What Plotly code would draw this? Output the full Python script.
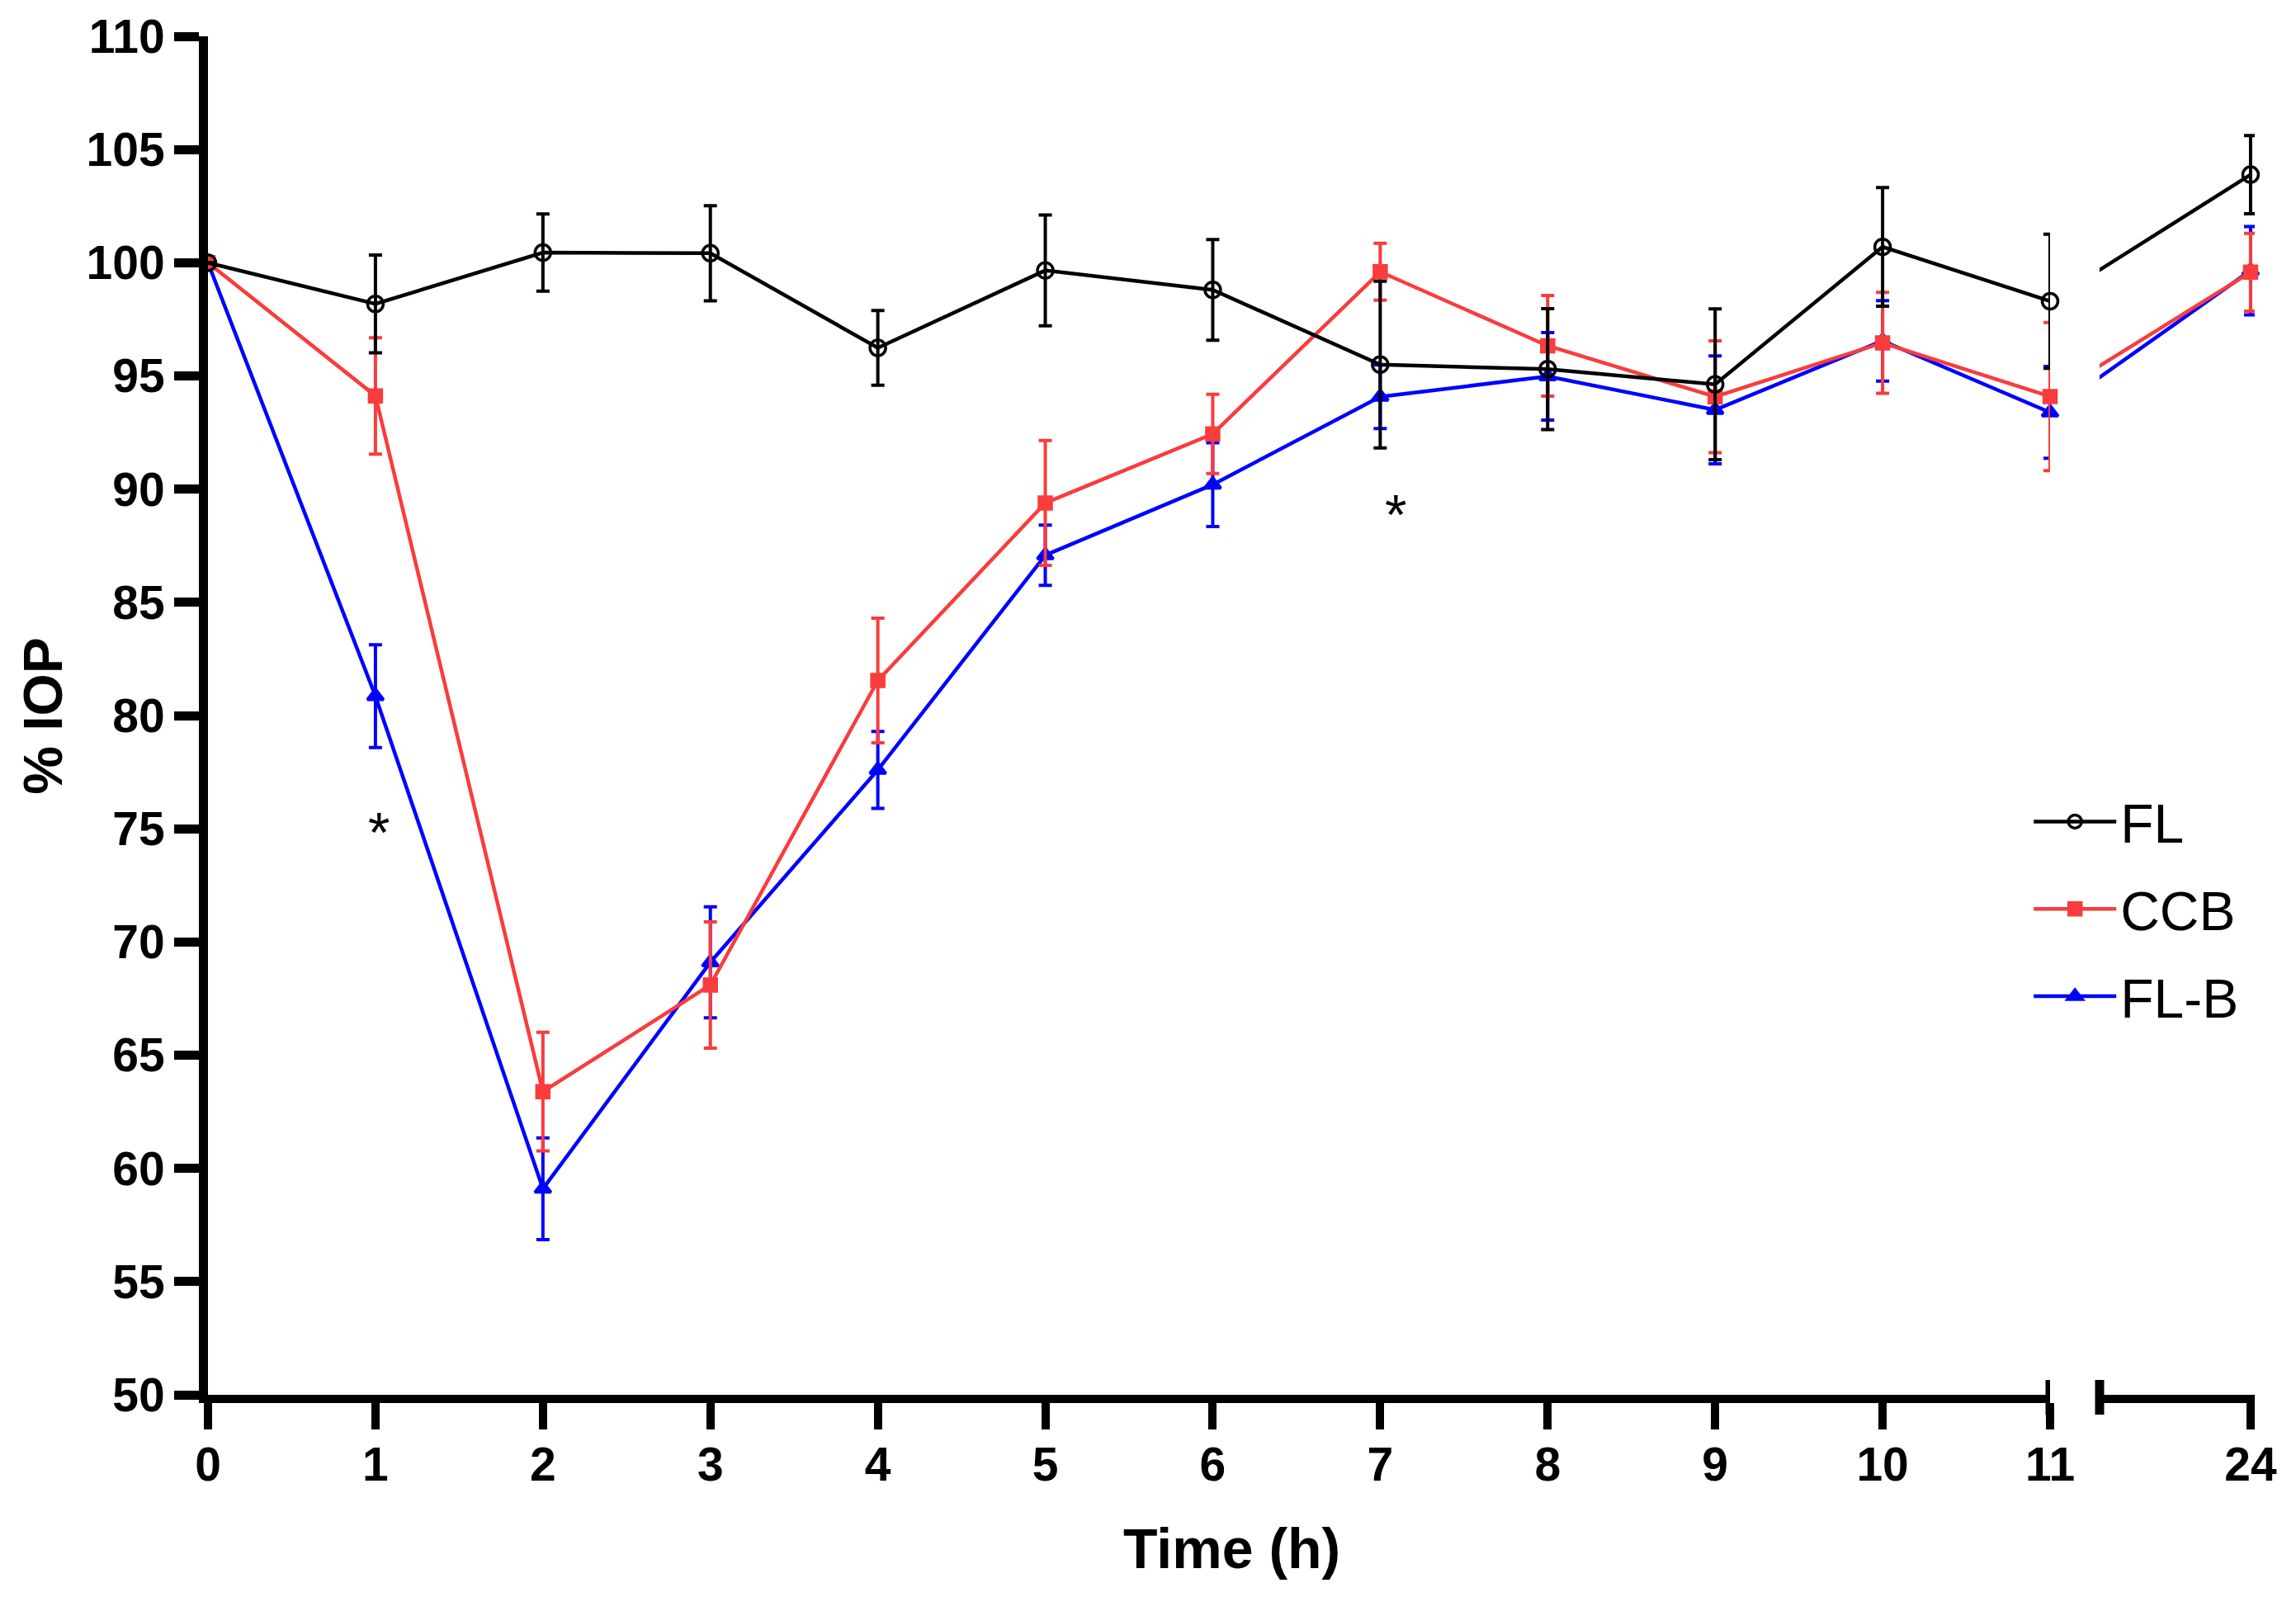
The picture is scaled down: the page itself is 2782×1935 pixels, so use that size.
import plotly.graph_objects as go

# ---------------- data ----------------
times = [0, 1, 2, 3, 4, 5, 6, 7, 8, 9, 10, 11, 24]
x_tick_labels = ["0", "1", "2", "3", "4", "5", "6", "7", "8", "9", "10", "11", "24"]
y_ticks = [50, 55, 60, 65, 70, 75, 80, 85, 90, 95, 100, 105, 110]

fl_mean = [100, 98.18, 100.45, 100.42, 96.24, 99.66, 98.8, 95.5, 95.3, 94.63, 100.7, 98.3, 103.89]
fl_err = [0, 2.16, 1.7, 2.1, 1.65, 2.45, 2.22, 3.68, 2.67, 3.33, 2.62, 2.96, 1.73]

ccb_mean = [100, 94.12, 63.39, 68.1, 81.55, 89.39, 92.44, 99.6, 96.33, 94.08, 96.46, 94.09, 99.58]
ccb_err = [0, 2.57, 2.62, 2.79, 2.75, 2.76, 1.75, 1.26, 2.22, 2.47, 2.23, 3.27, 1.72]

flb_mean = [100, 80.86, 59.1, 69.1, 77.6, 87.08, 90.2, 94.08, 94.98, 93.5, 96.55, 93.39, 99.65]
flb_err = [0, 2.27, 2.25, 2.45, 1.7, 1.33, 1.85, 1.4, 1.93, 2.38, 1.78, 2.03, 1.95]

# significance marks (time, y position)
star_x = [1.02, 7.09]
star_y = [75.15, 89.2]

series = [
    # name, mean, err, color, symbol, size, legendrank
    ("FL-B", flb_mean, flb_err, "#0000ff", "triangle-up", 17, 3),
    ("CCB", ccb_mean, ccb_err, "#f93c3c", "square", 15, 2),
    ("FL", fl_mean, fl_err, "#000000", "circle-open", 19, 1),
]

FONT = "Liberation Sans, Arial, sans-serif"
LW = 4.5

fig = go.Figure()

n_first = 12  # points 0..11 are on the first (left) axis segment

for name, mean, err, color, symbol, size, rank in series:
    # left segment: lines + markers + error bars for 0..11
    fig.add_trace(go.Scatter(
        x=times[:n_first], y=mean[:n_first],
        mode="lines+markers",
        name=name, legendrank=rank, legendgroup=name,
        line=dict(color=color, width=LW),
        marker=dict(symbol=symbol, size=size, color=color,
                    line=dict(color=color, width=3.5)),
        error_y=dict(type="data", array=err[:n_first], visible=True,
                     color=color, thickness=4, width=8),
        cliponaxis=False,
        xaxis="x", yaxis="y",
    ))
    # right segment: connecting line (clipped by the broken axis)
    fig.add_trace(go.Scatter(
        x=times, y=mean, mode="lines",
        line=dict(color=color, width=LW),
        showlegend=False, legendgroup=name, hoverinfo="skip",
        xaxis="x2", yaxis="y",
    ))
    # right segment: marker + error bar at 24 h
    fig.add_trace(go.Scatter(
        x=times[n_first:], y=mean[n_first:], mode="markers",
        marker=dict(symbol=symbol, size=size, color=color,
                    line=dict(color=color, width=3.5)),
        error_y=dict(type="data", array=err[n_first:], visible=True,
                     color=color, thickness=4, width=8),
        showlegend=False, legendgroup=name, cliponaxis=False,
        xaxis="x2", yaxis="y",
    ))

tickfont = dict(family=FONT, size=57, color="black", weight="bold")
axis_common = dict(
    showline=True, linecolor="black", linewidth=10,
    ticks="outside", ticklen=32, tickwidth=10, tickcolor="black",
    showgrid=False, zeroline=False, tickfont=tickfont,
)

fig.update_layout(
    width=2782, height=1935,
    margin=dict(l=252, r=50, t=39, b=245),
    paper_bgcolor="white", plot_bgcolor="white",
    showlegend=True,
    legend=dict(
        x=0.89, y=0.452, xanchor="left", yanchor="top",
        font=dict(family=FONT, size=66, color="black"),
        itemwidth=100, tracegroupgap=17,
        bgcolor="rgba(0,0,0,0)",
    ),
    xaxis=dict(domain=[0, 0.9], range=[0, 11], anchor="y",
               tickvals=times[:n_first], ticktext=x_tick_labels[:n_first],
               ticklabelstandoff=-6, **axis_common),
    xaxis2=dict(domain=[0.9242, 1], range=[14.21, 24.27], anchor="y",
                tickvals=times[n_first:], ticktext=x_tick_labels[n_first:],
                ticklabelstandoff=-6, **axis_common),
    yaxis=dict(domain=[0, 1], range=[50, 110], anchor="x",
               tickvals=y_ticks, ticktext=[str(v) for v in y_ticks],
               **{**axis_common, "linewidth": 11, "tickwidth": 11, "ticklen": 30}),
)

# axis break marks
fig.add_shape(type="line", xref="x", yref="paper", x0=11, x1=11,
              ysizemode="pixel", yanchor=0, y0=-24, y1=18,
              line=dict(color="black", width=11))
fig.add_shape(type="line", xref="x2 domain", yref="paper", x0=0, x1=0,
              ysizemode="pixel", yanchor=0, y0=-24, y1=18,
              line=dict(color="black", width=11))

# axis titles
fig.add_annotation(text="% IOP", xref="paper", yref="paper",
                   x=-0.0807, y=0.5, xanchor="center", yanchor="middle",
                   textangle=-90, showarrow=False,
                   font=dict(family=FONT, size=66, color="black", weight="bold"))
fig.add_annotation(text="Time (h)", xref="paper", yref="paper",
                   x=0.5, y=-0.113, xanchor="center", yanchor="middle",
                   showarrow=False,
                   font=dict(family=FONT, size=68, color="black", weight="bold"))

# significance stars
for sx, sy in zip(star_x, star_y):
    fig.add_annotation(text="*", x=sx, y=sy, xref="x", yref="y",
                       showarrow=False, yshift=-8,
                       font=dict(family=FONT, size=68, color="black"))

fig.write_html("out.html", config={"displayModeBar": False},
               post_script="document.body.style.margin='0px';")
